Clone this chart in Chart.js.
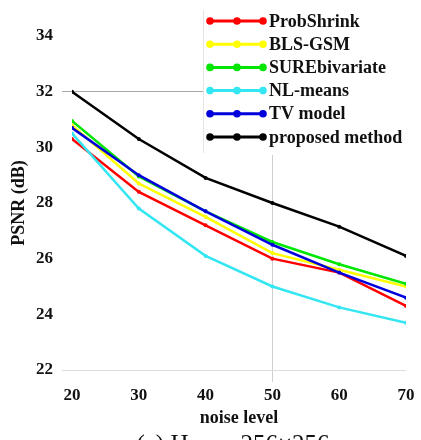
<!DOCTYPE html>
<html>
<head>
<meta charset="utf-8">
<script src="https://cdn.jsdelivr.net/npm/chart.js@4.4.1/dist/chart.umd.min.js"></script>
<style>
  html, body { margin: 0; padding: 0; background: #fff; }
  #wrap { position: relative; width: 421px; height: 440px; }
</style>
</head>
<body>
<div id="wrap"><canvas id="psnrChart" width="421" height="440"></canvas></div>
<script>
// ================================
// DATA
// ================================
const noiseLevels = [20, 30, 40, 50, 60, 70];
const yTicks = [22, 24, 26, 28, 30, 32, 34];

const probShrink   = [30.3, 28.4, 27.2, 26.0, 25.5, 24.3];
const blsGsm       = [30.8, 28.7, 27.5, 26.2, 25.6, 25.0];
const sureBivar    = [30.95, 28.95, 27.7, 26.6, 25.8, 25.1];
const nlMeans      = [30.5, 27.8, 26.1, 25.0, 24.25, 23.7];
const tvModel      = [30.7, 29.0, 27.7, 26.5, 25.5, 24.6];
const proposed     = [32.0, 30.3, 28.9, 28.0, 27.15, 26.1];

const seriesNames = ["ProbShrink", "BLS-GSM", "SUREbivariate", "NL-means", "TV model", "proposed method"];
const seriesColors = ["#ff0000", "#ffff00", "#00e600", "#33e6f2", "#0000dd", "#000000"];
const seriesValues = [probShrink, blsGsm, sureBivar, nlMeans, tvModel, proposed];

const SERIF = "'Liberation Serif', 'DejaVu Serif', serif";

// ================================
// BUILD DATASETS
// ================================
const datasets = seriesValues.map((vals, i) => ({
    label: seriesNames[i],
    data: vals.map((v, j) => ({ x: noiseLevels[j], y: v })),
    borderColor: seriesColors[i],
    backgroundColor: seriesColors[i],
    borderWidth: 2.5,
    pointRadius: 2,
    pointBackgroundColor: seriesColors[i],
    pointBorderWidth: 0,
    tension: 0,
    order: seriesNames.length - i
}));

// ================================
// LEGEND BOX (drawn over plot)
// ================================
const legendBox = {
    id: "legendBox",
    afterDatasetsDraw(chart) {
        const ctx = chart.ctx;
        ctx.save();
        ctx.fillStyle = "#fff";
        ctx.fillRect(203, 0, 218, 155);
        ctx.strokeStyle = "#e4e4e4";
        ctx.lineWidth = 1;
        ctx.beginPath();
        ctx.moveTo(203.5, 10);
        ctx.lineTo(203.5, 153);
        ctx.stroke();

        ctx.font = "bold 18px " + SERIF;
        ctx.textBaseline = "middle";
        chart.data.datasets.forEach((ds, i) => {
            const y = 21 + i * 23.2;
            ctx.strokeStyle = ds.borderColor;
            ctx.fillStyle = ds.borderColor;
            ctx.lineWidth = 3;
            ctx.beginPath();
            ctx.moveTo(210, y);
            ctx.lineTo(263, y);
            ctx.stroke();
            [210, 237, 263].forEach(px => {
                ctx.beginPath();
                ctx.arc(px, y, 3.8, 0, Math.PI * 2);
                ctx.fill();
            });
            ctx.fillStyle = "#111";
            ctx.fillText(ds.label, 269, y + 1);
        });
        ctx.restore();
    }
};

// ================================
// CAPTION (cut off at bottom edge)
// ================================
const caption = {
    id: "caption",
    afterDraw(chart) {
        const ctx = chart.ctx;
        ctx.save();
        ctx.font = "25px " + SERIF;
        ctx.fillStyle = "#111";
        ctx.textAlign = "center";
        ctx.textBaseline = "alphabetic";
        ctx.fillText("(c) House 256\u00d7256", 233, 452);
        ctx.restore();
    }
};

// ================================
// CREATE CHART
// ================================
new Chart(document.getElementById("psnrChart"), {
    type: "line",
    data: { datasets: datasets },
    options: {
        responsive: false,
        animation: false,
        layout: { padding: { left: 0, right: 15, top: 36, bottom: 0 } },
        plugins: {
            legend: { display: false },
            tooltip: { enabled: false }
        },
        scales: {
            x: {
                type: "linear",
                min: 20,
                max: 70,
                afterFit: s => { s.height = 70; },
                afterBuildTicks: s => { s.ticks = noiseLevels.map(v => ({ value: v })); },
                border: { display: false },
                grid: {
                    color: c => (c.tick && c.tick.value === 50 ? "#cfcfcf" : "rgba(0,0,0,0)"),
                    tickLength: 12,
                    lineWidth: 1
                },
                ticks: {
                    padding: 3,
                    color: "#111",
                    font: { family: SERIF, size: 17, weight: "bold" }
                },
                title: {
                    display: true,
                    text: "noise level",
                    color: "#111",
                    padding: { top: 0, bottom: 11 },
                    font: { family: SERIF, size: 18, weight: "bold" }
                }
            },
            y: {
                min: 22,
                max: 34,
                afterFit: s => { s.width = 72; },
                afterBuildTicks: s => { s.ticks = yTicks.map(v => ({ value: v })); },
                border: { display: false },
                grid: {
                    color: c => {
                        if (!c.tick) return "rgba(0,0,0,0)";
                        if (c.tick.value === 32) return "#a8a8a8";
                        if (c.tick.value === 22) return "#dddddd";
                        return "rgba(0,0,0,0)";
                    },
                    tickLength: 10,
                    lineWidth: 1
                },
                ticks: {
                    padding: 9,
                    color: "#111",
                    font: { family: SERIF, size: 17, weight: "bold" }
                },
                title: {
                    display: true,
                    text: "PSNR (dB)",
                    color: "#111",
                    padding: { top: 9, bottom: 0 },
                    font: { family: SERIF, size: 18, weight: "bold" }
                }
            }
        }
    },
    plugins: [legendBox, caption]
});
</script>
</body>
</html>
